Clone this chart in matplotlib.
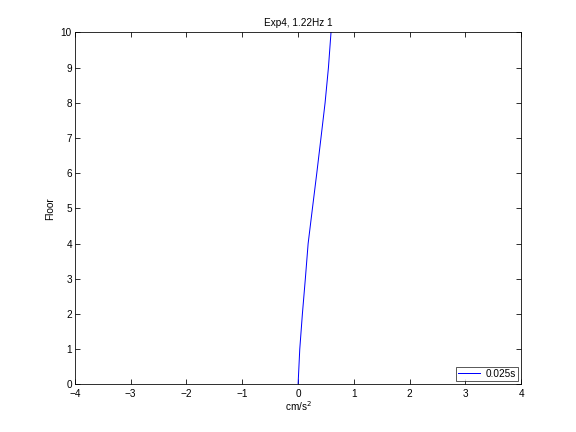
import matplotlib
matplotlib.use("Agg")
import matplotlib.pyplot as plt

plt.rcParams['font.family'] = ['Liberation Sans', 'DejaVu Sans']
plt.rcParams['font.size'] = 10

floors = [0, 1, 2, 3, 4, 5, 6, 7, 8, 9, 10]
accel = [0.0, 0.03, 0.077, 0.13, 0.18, 0.257, 0.335, 0.41, 0.484, 0.544, 0.59]
series_label = "0.025s"
title = "Exp4, 1.22Hz 1"
xticks = [-4, -3, -2, -1, 0, 1, 2, 3, 4]
yticks = list(range(0, 11))

fig = plt.figure(figsize=(8, 6), dpi=72)
ax = fig.add_axes([0.13, 0.11, 0.775, 0.815])
ax.plot(accel, floors, color='blue', lw=1, label=series_label)
ax.set_xlim(-4, 4)
ax.set_ylim(0, 10)
ax.set_xticks(xticks)
ax.set_yticks(yticks)
ax.set_xticklabels([str(t).replace('-', '\u2212') for t in xticks])
ax.tick_params(direction='in', top=True, right=True, length=5, width=0.8, labelsize=10)
ax.tick_params(axis='x', pad=5)
ax.tick_params(axis='y', pad=3)
for s in ax.spines.values():
    s.set_linewidth(0.8)
ax.set_title(title, fontsize=10, pad=6)
ax.set_xlabel("cm/s$^2$", fontsize=10, labelpad=0)
ax.set_ylabel("Floor", fontsize=10, labelpad=6)
leg = ax.legend(loc='lower right', fontsize=10, frameon=True, fancybox=False,
                edgecolor='black', borderpad=0.2, handlelength=2.2, handletextpad=0.6,
                borderaxespad=0.35)
leg.get_frame().set_linewidth(0.8)
fig.savefig("out.png", dpi=72)
